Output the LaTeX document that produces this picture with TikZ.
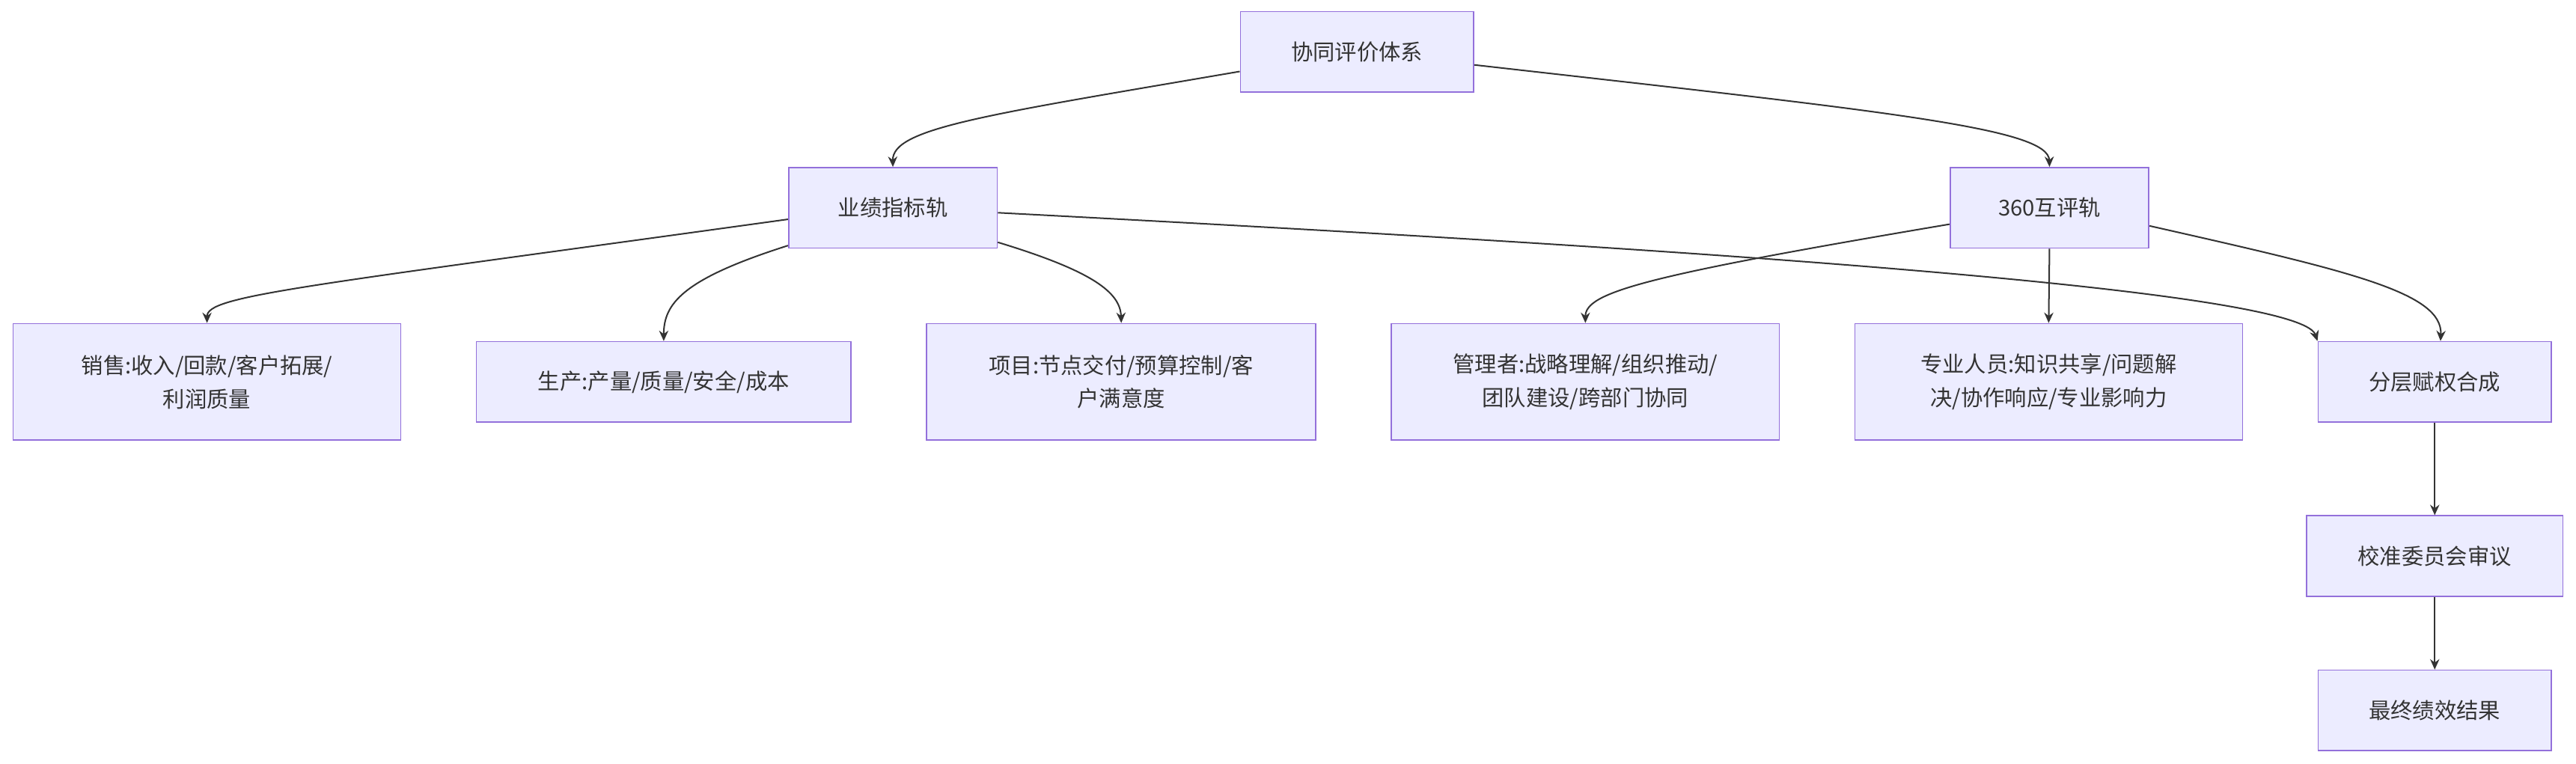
\documentclass[tikz,border=0pt]{standalone}
\usepackage{fontspec}
\setmainfont{Noto Sans CJK SC}
\usetikzlibrary{arrows.meta}
\definecolor{nf}{HTML}{ECECFF}
\definecolor{ns}{HTML}{9370DB}
\definecolor{tx}{HTML}{333333}
\begin{document}
\begin{tikzpicture}[x=0.05cm,y=-0.05cm,
  box/.style={draw=ns,fill=nf,line width=1.1pt,text=tx,font=\fontsize{19}{29}\selectfont,align=center,inner sep=0pt,minimum height=2.45cm},
  tall/.style={box,minimum height=3.55cm},
  e/.style={draw=tx,line width=1.3pt,-{Stealth[length=9pt,width=8pt]}}]
\useasboundingbox[fill=white] (0,0) rectangle (1568,464.7);
\node[box,minimum width=7.1cm] (a) at (826,31.5) {协同评价体系};
\node[box,minimum width=6.35cm] (b) at (543.5,126.5) {业绩指标轨};
\node[box,minimum width=6.05cm] (c) at (1247.5,126.5) {360互评轨};
\node[tall,minimum width=11.8cm] (d) at (126,232.5) {销售:收入/回款/客户拓展/\\利润质量};
\node[box,minimum width=11.4cm] (f) at (404,232.5) {生产:产量/质量/安全/成本};
\node[tall,minimum width=11.85cm] (g) at (682.5,232.5) {项目:节点交付/预算控制/客\\户满意度};
\node[tall,minimum width=11.8cm] (h) at (965,232.5) {管理者:战略理解/组织推动/\\团队建设/跨部门协同};
\node[tall,minimum width=11.8cm] (i) at (1247,232.5) {专业人员:知识共享/问题解\\决/协作响应/专业影响力};
\node[box,minimum width=7.1cm] (j) at (1482,232.5) {分层赋权合成};
\node[box,minimum width=7.8cm] (k) at (1482,338.5) {校准委员会审议};
\node[box,minimum width=7.1cm] (l) at (1482,432.5) {最终绩效结果};
\draw[e] (a.west) ++(0,12) .. controls (600,70) and (543,78) .. (b.north);
\draw[e] (a.east) ++(0,8) .. controls (1150,68) and (1247,78) .. (c.north);
\draw[e] (b.west) ++(0,7) .. controls (180,175) and (126,180) .. (d.north);
\draw[e] (b.west) ++(0,23) .. controls (415,170) and (404,185) .. (f.north);
\draw[e] (b.east) ++(0,21) .. controls (665,165) and (682,178) .. (g.north);
\draw[e] (b.east) ++(0,3) .. controls (1000,150) and (1400,175) .. (j.north west);
\draw[e] (c.west) ++(0,10) .. controls (1000,168) and (965,178) .. (h.north);
\draw[e] (c.south) -- (i.north);
\draw[e] (c.east) ++(0,11) .. controls (1430,165) and (1487,178) .. ([xshift=5]j.north);
\draw[e] (j) -- (k);
\draw[e] (k) -- (l);
\end{tikzpicture}
\end{document}
